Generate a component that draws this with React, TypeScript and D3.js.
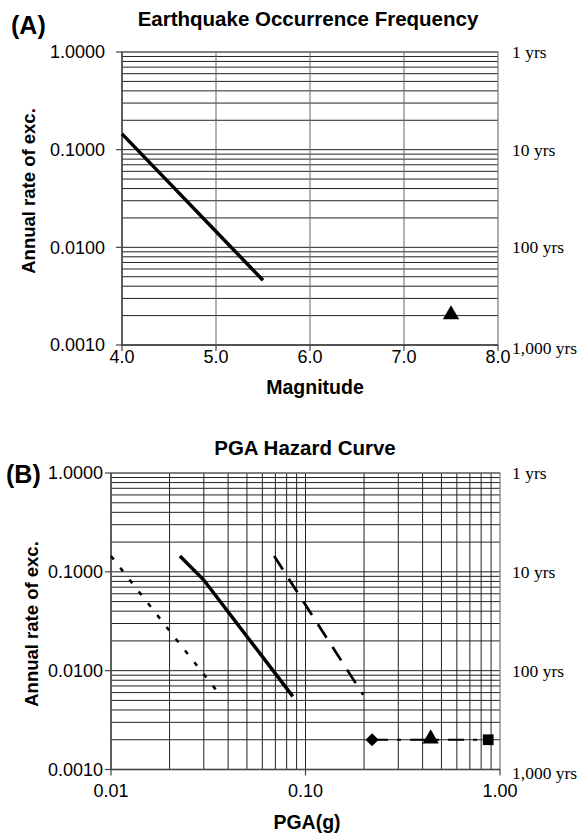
import React, { useEffect, useRef } from 'react';
import * as d3 from 'd3';

// Panel (A) data
const magnitudes = [4.0, 4.5, 5.0, 5.5];
const magRates = [0.145, 0.046, 0.0145, 0.0046];
const charMag = [7.5];
const charRate = [0.002];
const magTicks = [4.0, 5.0, 6.0, 7.0, 8.0];

// Panel (B) data
const pgaDotted = [0.01, 0.02, 0.0363];
const rateDotted = [0.1445, 0.0253, 0.0057];
const pgaSolid = [0.0226, 0.03, 0.086];
const rateSolid = [0.1445, 0.0826, 0.0055];
const pgaDashed = [0.069, 0.198];
const rateDashed = [0.1445, 0.0057];
const pgaMarkers = [0.22, 0.44, 0.87];
const rateMarkers = [0.002, 0.002, 0.002];
const markerShapes = ['diamond', 'triangle', 'square'];
const pgaTicks = [0.01, 0.1, 1.0];

// shared
const rateTicks = [1, 0.1, 0.01, 0.001];
const returnLabels = ['1 yrs', '10 yrs', '100 yrs', '1,000 yrs'];

const sans = 'Liberation Sans, Arial, Helvetica, sans-serif';
const serif = 'Liberation Serif, Times New Roman, serif';

function frame(g: any, x: any, y: any, xGrid: number[], xTicks: number[], xFmt: (d: number) => string, o: any) {
    const [x0, x1] = x.range();
    const [y0, y1] = y.range(); // y0 bottom, y1 top

    // horizontal grid (1..9 per decade)
    g.selectAll('.hgrid')
        .data(y.ticks())
        .enter().append('line')
        .attr('x1', x0).attr('x2', x1)
        .attr('y1', (d: number) => y(d)).attr('y2', (d: number) => y(d))
        .attr('stroke', '#222').attr('stroke-width', 1);

    // vertical grid
    g.selectAll('.vgrid')
        .data(xGrid)
        .enter().append('line')
        .attr('x1', (d: number) => x(d)).attr('x2', (d: number) => x(d))
        .attr('y1', y0).attr('y2', y1)
        .attr('stroke', o.vgridColor).attr('stroke-width', 1);

    // border
    g.append('rect')
        .attr('x', x0).attr('y', y1)
        .attr('width', x1 - x0).attr('height', y0 - y1)
        .attr('fill', 'none').attr('stroke', '#777').attr('stroke-width', 1.2);
    g.append('line').attr('x1', x0).attr('x2', x0).attr('y1', y0).attr('y2', y1)
        .attr('stroke', '#444').attr('stroke-width', 1.5);
    g.append('line').attr('x1', x0).attr('x2', x1).attr('y1', y0).attr('y2', y0)
        .attr('stroke', '#444').attr('stroke-width', 1.5);

    // y ticks + labels
    rateTicks.forEach((d, i) => {
        g.append('line').attr('x1', x0 - 6).attr('x2', x0).attr('y1', y(d)).attr('y2', y(d))
            .attr('stroke', '#444').attr('stroke-width', 1.2);
        g.append('text')
            .attr('x', o.yLabelRight).attr('y', y(d)).attr('dy', '0.35em')
            .attr('text-anchor', 'end')
            .style('font-family', sans).style('font-size', '18px')
            .text(d.toFixed(4));
        g.append('text')
            .attr('x', 512).attr('y', i === 3 ? y(d) + 3 : y(d)).attr('dy', '0.35em')
            .style('font-family', serif).style('font-size', '17.5px')
            .text(returnLabels[i]);
    });

    // x ticks + labels
    xTicks.forEach(d => {
        g.append('line').attr('x1', x(d)).attr('x2', x(d)).attr('y1', y0).attr('y2', y0 + 6)
            .attr('stroke', '#444').attr('stroke-width', 1.2);
        g.append('text')
            .attr('x', x(d)).attr('y', o.xLabelY)
            .attr('text-anchor', 'middle')
            .style('font-family', sans).style('font-size', '18px')
            .text(xFmt(d));
    });

    // titles
    g.append('text')
        .attr('x', o.titleX).attr('y', o.titleY).attr('text-anchor', 'middle')
        .style('font-family', sans).style('font-size', '20.5px').style('font-weight', 'bold')
        .text(o.title);
    g.append('text')
        .attr('x', o.panelX).attr('y', o.panelY)
        .style('font-family', sans).style('font-size', '25px').style('font-weight', 'bold')
        .text(o.panel);
    g.append('text')
        .attr('x', o.xTitleX).attr('y', o.xTitleY).attr('text-anchor', 'middle')
        .style('font-family', sans).style('font-size', '19.5px').style('font-weight', 'bold')
        .text(o.xTitle);
    g.append('text')
        .attr('transform', `translate(${o.yTitleX},${o.yTitleY}) rotate(-90)`)
        .attr('text-anchor', 'middle')
        .style('font-family', sans).style('font-size', '18.5px').style('font-weight', 'bold')
        .text('Annual rate of exc.');
}

export default function App() {
    const ref = useRef<SVGSVGElement>(null);

    useEffect(() => {
        const svg = d3.select(ref.current);
        svg.selectAll('*').remove();

        // ---------- Panel A ----------
        const xA = d3.scaleLinear().domain([4, 8]).range([122, 498]);
        const yA = d3.scaleLog().domain([0.001, 1]).range([345, 52]);
        const gA = svg.append('g');
        frame(gA, xA, yA, [5, 6, 7], magTicks, d => d.toFixed(1), {
            vgridColor: '#666', yLabelRight: 105, xLabelY: 363,
            title: 'Earthquake Occurrence Frequency', titleX: 308, titleY: 26,
            panel: '(A)', panelX: 11, panelY: 34,
            xTitle: 'Magnitude', xTitleX: 315, xTitleY: 394,
            yTitleX: 35, yTitleY: 191
        });

        const lineA = d3.line<number>()
            .x((d, i) => xA(magnitudes[i]))
            .y(d => yA(d));
        gA.append('path')
            .attr('d', lineA(magRates))
            .attr('fill', 'none').attr('stroke', '#000').attr('stroke-width', 3.5);

        gA.selectAll('.charpt')
            .data(charMag)
            .enter().append('path')
            .attr('transform', (d, i) => `translate(${xA(d)},${yA(charRate[i]) - 1})`)
            .attr('d', d3.symbol().type(d3.symbolTriangle).size(115)())
            .attr('fill', '#000');

        // ---------- Panel B ----------
        const xB = d3.scaleLog().domain([0.01, 1]).range([111, 500]);
        const yB = d3.scaleLog().domain([0.001, 1]).range([769.5, 473]);
        const gB = svg.append('g');
        const gridB = xB.ticks().filter(d => d > 0.01 && d < 1);
        frame(gB, xB, yB, gridB, pgaTicks, d => d.toFixed(2), {
            vgridColor: '#222', yLabelRight: 103, xLabelY: 797,
            title: 'PGA Hazard Curve', titleX: 305, titleY: 455,
            panel: '(B)', panelX: 6, panelY: 483,
            xTitle: 'PGA(g)', xTitleX: 307, xTitleY: 829,
            yTitleX: 38, yTitleY: 624
        });

        const curves = [
            { pga: pgaDotted, rate: rateDotted, dash: '4.5,10.5', w: 2.5 },
            { pga: pgaSolid, rate: rateSolid, dash: null, w: 3.5 },
            { pga: pgaDashed, rate: rateDashed, dash: '16,11', w: 2.7 },
            { pga: pgaMarkers, rate: rateMarkers, dash: '16,9,4,9', w: 2 }
        ];
        curves.forEach(c => {
            const ln = d3.line<number>()
                .x((d, i) => xB(c.pga[i]))
                .y(d => yB(d));
            gB.append('path')
                .attr('d', ln(c.rate))
                .attr('fill', 'none').attr('stroke', '#000')
                .attr('stroke-width', c.w)
                .attr('stroke-dasharray', c.dash);
        });

        // diamond = square rotated 45 degrees
        const symbolTypes: any = {
            diamond: d3.symbolSquare,
            triangle: d3.symbolTriangle,
            square: d3.symbolSquare
        };
        const symbolSizes: any = { diamond: 85, triangle: 115, square: 115 };
        gB.selectAll('.mk')
            .data(pgaMarkers)
            .enter().append('path')
            .attr('transform', (d, i) => {
                const s = markerShapes[i];
                const ty = yB(rateMarkers[i]) - (s === 'triangle' ? 1 : 0);
                return `translate(${xB(d)},${ty})` + (s === 'diamond' ? ' rotate(45)' : '');
            })
            .attr('d', (d, i) => d3.symbol().type(symbolTypes[markerShapes[i]]).size(symbolSizes[markerShapes[i]])())
            .attr('fill', '#000');
    }, []);

    return (
        <svg ref={ref} width={579} height={833}
            style={{ position: 'absolute', left: 0, top: 0, background: '#fff' }} />
    );
}
